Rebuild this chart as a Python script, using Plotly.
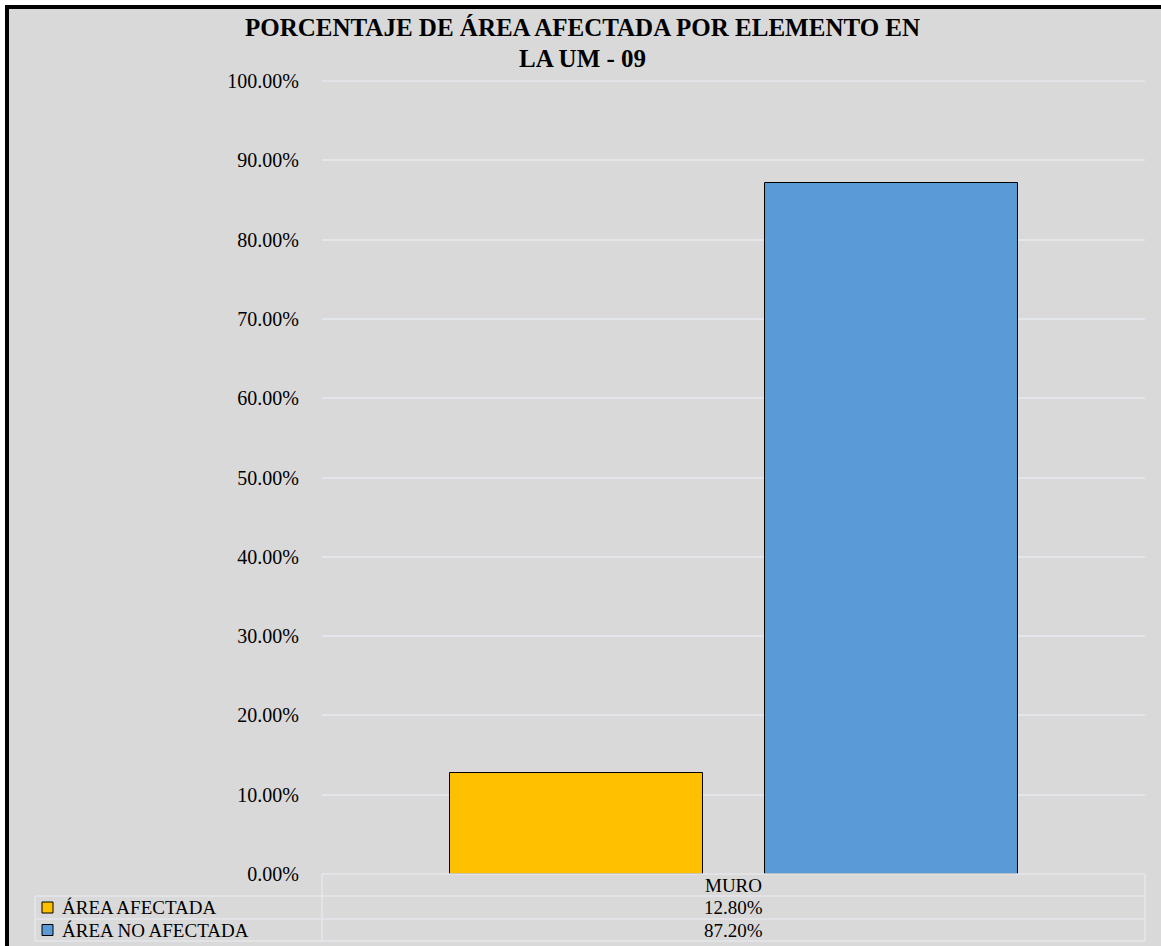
import plotly.graph_objects as go

# ---- data ----
categories = ["MURO"]
series_names = ["ÁREA AFECTADA", "ÁREA NO AFECTADA"]
afectada = [12.80]
no_afectada = [87.20]
series_values = [afectada, no_afectada]
series_colors = ["#FFC000", "#5B9BD5"]
y_ticks = [0, 10, 20, 30, 40, 50, 60, 70, 80, 90, 100]
y_tick_labels = [f"{v:.2f}%" for v in y_ticks]
title_lines = ["PORCENTAJE DE ÁREA AFECTADA POR ELEMENTO EN", "LA UM - 09"]

W, H = 1161, 946
L, R, T, B = 322, 1145, 81, 874  # plot area in pixels


def px(x):
    return (x - L) / (R - L)


def py(y):
    return (B - y) / (B - T)


FONT = "Liberation Serif"
GRID = "#e3e6ea"

fig = go.Figure()
for name, vals, col in zip(series_names, series_values, series_colors):
    fig.add_trace(go.Bar(
        x=categories, y=vals, name=name,
        marker=dict(color=col, line=dict(color="#000000", width=1)),
        showlegend=False, hoverinfo="x+y+name",
    ))

shapes = []
# background panel with black frame (top and left visible)
shapes.append(dict(type="rect", xref="paper", yref="paper",
                   x0=px(7), x1=px(1175), y0=py(960), y1=py(7),
                   fillcolor="#d9d9d9", line=dict(color="#000000", width=4),
                   layer="below"))


def hline(y, x0, x1):
    shapes.append(dict(type="line", xref="paper", yref="paper",
                       x0=px(x0), x1=px(x1), y0=py(y), y1=py(y),
                       line=dict(color=GRID, width=1.5)))


def vline(x, y0, y1):
    shapes.append(dict(type="line", xref="paper", yref="paper",
                       x0=px(x), x1=px(x), y0=py(y0), y1=py(y1),
                       line=dict(color=GRID, width=1.5)))

# gridline at the top of the value axis
hline(81, 322, 1145)
# data table lines
hline(874, 322, 1145)
hline(896, 35, 1145)
hline(919, 35, 1145)
hline(941, 35, 1145)
vline(322, 874, 941)
vline(35, 896, 941)
vline(1145, 874, 941)

annotations = []
for line, yc in zip(title_lines, [27, 58]):
    annotations.append(dict(text=f"<b>{line}</b>", xref="paper", yref="paper",
                            x=px(582), y=py(yc), xanchor="center", yanchor="middle",
                            showarrow=False,
                            font=dict(family=FONT, size=25, color="#000000")))

# category header of the data table
annotations.append(dict(text=categories[0], xref="paper", yref="paper",
                        x=0.5, y=py(885), xanchor="center", yanchor="middle",
                        showarrow=False,
                        font=dict(family=FONT, size=19, color="#000000")))

row_y = [907.5, 930]
for i, (name, vals, col) in enumerate(zip(series_names, series_values, series_colors)):
    yc = row_y[i]
    # legend key
    shapes.append(dict(type="rect", xref="paper", yref="paper",
                       x0=px(42), x1=px(53), y0=py(yc + 5.5), y1=py(yc - 5.5),
                       fillcolor=col, line=dict(color="#000000", width=1)))
    annotations.append(dict(text=name, xref="paper", yref="paper",
                            x=px(60), y=py(yc), xanchor="left", yanchor="middle",
                            showarrow=False,
                            font=dict(family=FONT, size=19, color="#000000")))
    annotations.append(dict(text=f"{vals[0]:.2f}%", xref="paper", yref="paper",
                            x=0.5, y=py(yc), xanchor="center", yanchor="middle",
                            showarrow=False,
                            font=dict(family=FONT, size=19, color="#000000")))

fig.update_layout(
    width=W, height=H,
    margin=dict(l=L, r=W - R, t=T, b=H - B, pad=0),
    paper_bgcolor="#ffffff",
    plot_bgcolor="rgba(0,0,0,0)",
    barmode="group",
    bargap=0.2345,
    bargroupgap=0.197,
    font=dict(family=FONT, color="#000000"),
    xaxis=dict(showgrid=False, showline=False, zeroline=False, ticks="",
               showticklabels=False),
    yaxis=dict(range=[0, 100], tickvals=y_ticks, ticktext=y_tick_labels,
               showgrid=True, gridcolor=GRID, gridwidth=1.5, zeroline=False,
               showline=False, ticks="", ticklabelstandoff=22,
               tickfont=dict(family=FONT, size=20, color="#000000")),
    shapes=shapes,
    annotations=annotations,
)

fig.write_html("out.html", config={"displayModeBar": False},
               post_script="document.body.style.margin='0';document.body.style.padding='0';")
